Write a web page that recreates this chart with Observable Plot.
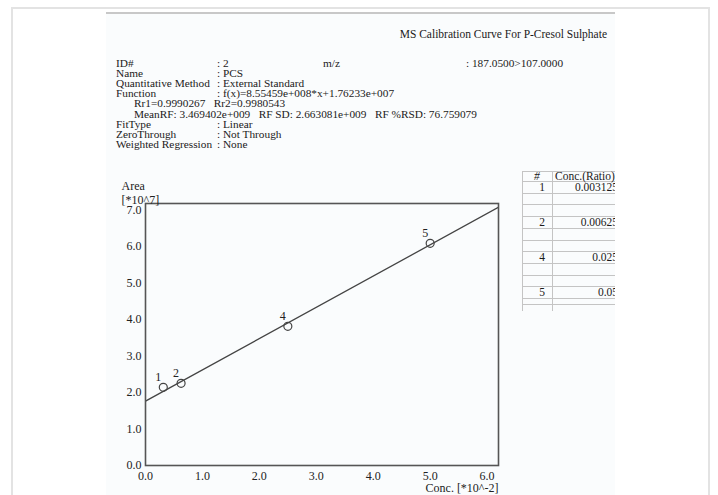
<!DOCTYPE html>
<html>
<head>
<meta charset="utf-8">
<script src="https://cdn.jsdelivr.net/npm/d3@7"></script>
<script src="https://cdn.jsdelivr.net/npm/@observablehq/plot@0.6"></script>
<style>
  body { margin: 0; background: #fff; font-family: "Liberation Serif", "Times New Roman", serif; color: #1a1a1a; }
  #page { position: relative; width: 718px; height: 495px; overflow: hidden; }
  .border { position: absolute; left: 11px; top: 7px; width: 699px; height: 520px; border: 2px solid #e3e3e3; box-sizing: border-box; }
  .sheet { position: absolute; left: 106px; top: 12px; width: 509px; height: 500px; background: #fafcfd; border-top: 2px solid #c8c8c8; }
  .t { position: absolute; font-size: 11.3px; line-height: 10px; white-space: pre; }
  #chart { position: absolute; left: 100px; top: 160px; }
  #tbl { position: absolute; left: 522px; top: 171px; width: 93px; height: 140px; overflow: hidden; }
  #tbl .cell { position: absolute; font-size: 11.5px; line-height: 11px; white-space: pre; }
  #tbl .hl { position: absolute; left: 0; width: 110px; height: 1px; background: #c4c4c4; }
  #tbl .vl { position: absolute; top: 0; width: 1px; background: #c4c4c4; }
</style>
</head>
<body>
<div id="page">
  <div class="border"></div>
  <div class="sheet"></div>
  <div id="info"></div>
  <div id="chart"></div>
  <div id="tbl"></div>
</div>
<script>
// Calibration standards: level number, concentration ratio, peak area (x10^7)
const levels = [1, 2, 4, 5];
const concRatio = [0.003125, 0.00625, 0.025, 0.05];
const area = [2.14, 2.25, 3.81, 6.08];

// Fitted calibration function f(x) = slope*x + intercept
const slope = 8.55459e8;
const intercept = 1.76233e7;

// Axis ticks (x in units of 10^-2, y in units of 10^7)
const xTicks = [0, 1, 2, 3, 4, 5, 6];
const yTicks = [0, 1, 2, 3, 4, 5, 6, 7];
const xMax = 6.2;
const yMax = 7.17;

// Header fields
const title = "MS Calibration Curve For P-Cresol Sulphate";
const fieldNames = ["ID#", "Name", "Quantitative Method", "Function"];
const fitNames = ["FitType", "ZeroThrough", "Weighted Regression"];
const fitValues = ["Linear", "Not Through", "None"];
const compoundId = "2";
const compoundName = "PCS";
const method = "External Standard";
const mz = "187.0500>107.0000";
const statsLine1 = "Rr1=0.9990267   Rr2=0.9980543";
const statsLine2 = "MeanRF: 3.469402e+009   RF SD: 2.663081e+009   RF %RSD: 76.759079";

// Exponential notation with three-digit exponent, e.g. 8.55459e+008
function sci(v, digits) {
  const [m, e] = v.toExponential(digits).split("e");
  const sign = e[0] === "-" ? "-" : "+";
  return m + "e" + sign + e.replace(/^[+-]/, "").padStart(3, "0");
}
const fnText = "f(x)=" + sci(slope, 5) + "*x+" + sci(intercept, 5);

// ---- header text block ----
const info = document.getElementById("info");
function put(text, left, top, extra) {
  const d = document.createElement("div");
  d.className = "t";
  d.textContent = text;
  d.style.left = left + "px";
  d.style.top = top + "px";
  if (extra) Object.assign(d.style, extra);
  info.appendChild(d);
  return d;
}
put(title, 0, 29, { left: "auto", right: (718 - 607) + "px", fontSize: "11.5px" });

const fieldValues = [compoundId, compoundName, method, fnText];
const rowTop = 58, rowStep = 10.1;
fieldNames.forEach((n, i) => {
  put(n, 116, rowTop + i * rowStep);
  put(": " + fieldValues[i], 217, rowTop + i * rowStep);
});
put("m/z", 323, rowTop);
put(": " + mz, 466, rowTop);
put(statsLine1, 134, rowTop + 4 * rowStep);
put(statsLine2, 134, rowTop + 5 * rowStep);
fitNames.forEach((n, i) => {
  put(n, 116, rowTop + (6 + i) * rowStep);
  put(": " + fitValues[i], 217, rowTop + (6 + i) * rowStep);
});

// ---- calibration chart ----
const points = levels.map((id, i) => ({ id: String(id), x: concRatio[i] * 100, y: area[i] }));
const fitLine = [0, xMax].map(x => ({ x, y: (slope * (x / 100) + intercept) / 1e7 }));

const chart = Plot.plot({
  width: 420,
  height: 340,
  marginLeft: 45,
  marginRight: 22,
  marginTop: 43,
  marginBottom: 35,
  style: { fontFamily: "Liberation Serif, Times New Roman, serif", fontSize: "12px", color: "#222", background: "transparent", overflow: "visible" },
  x: { domain: [0, xMax], ticks: xTicks, tickFormat: d3.format(".1f"), tickSize: 0, tickPadding: 6, label: null },
  y: { domain: [0, yMax], ticks: yTicks, tickFormat: d3.format(".1f"), tickSize: 0, tickPadding: 4, label: null },
  marks: [
    Plot.line(fitLine, { x: "x", y: "y", stroke: "#444", strokeWidth: 1.3, clip: true }),
    Plot.dot(points, { x: "x", y: "y", r: 4, stroke: "#444", strokeWidth: 1.2, fill: "none" }),
    Plot.text(points, { x: "x", y: "y", text: "id", dx: -5, dy: -10, fill: "#222" }),
    Plot.frame({ stroke: "#555", strokeWidth: 1.6 }),
    Plot.text(["Area"], { frameAnchor: "top-left", text: d => d, textAnchor: "start", dx: -24, dy: -22, fill: "#222" }),
    Plot.text(["[*10^7]"], { frameAnchor: "top-left", text: d => d, textAnchor: "start", dx: -24, dy: -8, fill: "#222" }),
    Plot.text(["Conc. [*10^-2]"], { frameAnchor: "bottom-right", text: d => d, textAnchor: "end", dy: 26, fill: "#222" })
  ]
});
document.getElementById("chart").appendChild(chart);

// ---- concentration table (right side, partly cut off) ----
const tbl = document.getElementById("tbl");
const rowH = [10, 11.7, 11.7, 11.7, 11.7, 11.7, 11.7, 11.7, 11.7, 11.7, 11.7, 6, 7];
let yAcc = 0;
const lines = [0];
rowH.forEach(h => { yAcc += h; lines.push(yAcc); });
lines.forEach(y => {
  const l = document.createElement("div");
  l.className = "hl";
  l.style.top = y + "px";
  tbl.appendChild(l);
});
[0, 30].forEach(x => {
  const v = document.createElement("div");
  v.className = "vl";
  v.style.left = x + "px";
  v.style.height = yAcc + "px";
  tbl.appendChild(v);
});
function cell(text, top, opts) {
  const c = document.createElement("div");
  c.className = "cell";
  c.textContent = text;
  c.style.top = top + "px";
  Object.assign(c.style, opts);
  tbl.appendChild(c);
}
cell("#", 0, { left: "12px", fontStyle: "italic" });
cell("Conc.(Ratio)", 0, { left: "33px" });
levels.forEach((id, i) => {
  const top = lines[1 + i * 3];
  cell(String(id), top + 0.5, { left: "0px", width: "23px", textAlign: "right" });
  cell(String(concRatio[i]), top + 0.5, { left: "30px", width: "66px", textAlign: "right" });
});
</script>
</body>
</html>
